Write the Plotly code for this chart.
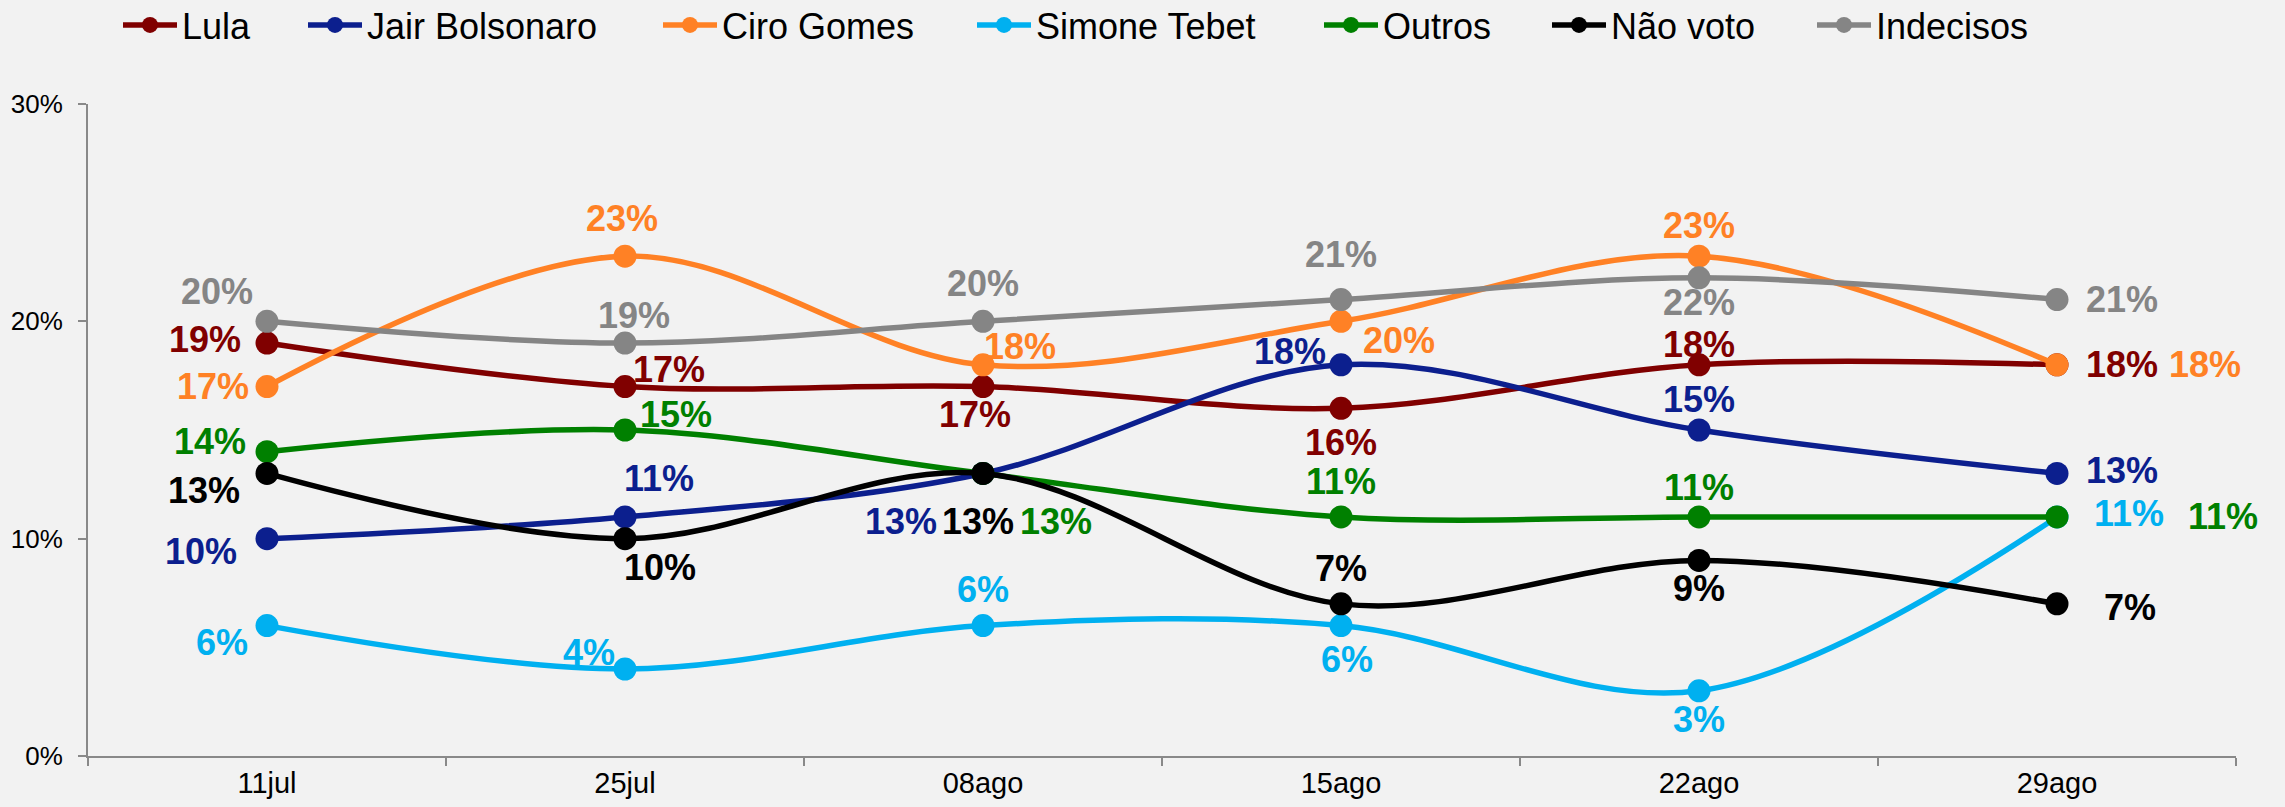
import plotly.graph_objects as go

dates = ["11jul", "25jul", "08ago", "15ago", "22ago", "29ago"]

lula = [19, 17, 17, 16, 18, 18]
bolsonaro = [10, 11, 13, 18, 15, 13]
ciro = [17, 23, 18, 20, 23, 18]
simone = [6, 4, 6, 6, 3, 11]
outros = [14, 15, 13, 11, 11, 11]
nao_voto = [13, 10, 13, 7, 9, 7]
indecisos = [20, 19, 20, 21, 22, 21]

y_ticks = [0, 10, 20, 30]
y_tick_labels = ["0%", "10%", "20%", "30%"]

series_names = ["Lula", "Jair Bolsonaro", "Ciro Gomes", "Simone Tebet",
                "Outros", "Não voto", "Indecisos"]
series_values = [lula, bolsonaro, ciro, simone, outros, nao_voto, indecisos]
colors = ["#800000", "#0C1F8E", "#FF8125", "#00B0F0", "#008000", "#000000", "#858585"]

# label offsets in pixels (dx, dy; dy positive = up), one per point
label_offsets = [
    [(-62, 4), (44, 17), (-8, -28), (0, -34), (0, 20), (65, 0)],            # Lula
    [(-66, -13), (34, 38), (-82, -48), (-51, 13), (0, 31), (65, 3)],        # Bolsonaro
    [(-54, 0), (-3, 38), (37, 18), (58, -19), (0, 31), (148, 0)],           # Ciro
    [(-45, -17), (-36, 17), (0, 36), (6, -34), (0, -29), (72, 3)],          # Simone
    [(-57, 10), (51, 16), (73, -48), (0, 35), (0, 29), (166, 0)],           # Outros
    [(-63, -17), (35, -29), (-5, -48), (0, 35), (0, -28), (73, -4)],        # Não voto
    [(-50, 30), (9, 28), (0, 38), (0, 45), (0, -25), (65, 0)],              # Indecisos
]

W, H = 2285, 807
legend_line_starts = [123, 308, 663, 977, 1324, 1552, 1817]

FONT = "Liberation Sans, Arial, sans-serif"
fig = go.Figure()
annotations = []
legends = {}
for i, (name, vals, col) in enumerate(zip(series_names, series_values, colors)):
    lg = "legend" if i == 0 else f"legend{i+1}"
    fig.add_trace(go.Scatter(
        x=dates, y=vals, name=name, mode="lines+markers",
        line=dict(color=col, width=5.5, shape="spline", smoothing=1),
        marker=dict(color=col, size=23),
        legend=lg, cliponaxis=False, hoverinfo="skip",
    ))
    legends[lg] = dict(
        x=(legend_line_starts[i] - 5) / W, xref="container", xanchor="left",
        y=1 - 25 / H, yref="container", yanchor="middle",
        orientation="h", bgcolor="rgba(0,0,0,0)", borderwidth=0,
        itemwidth=54, font=dict(family=FONT, size=36, color="#000000"),
    )
    for j, (d, v) in enumerate(zip(dates, vals)):
        dx, dy = label_offsets[i][j]
        annotations.append(dict(
            x=d, y=v, xref="x", yref="y", text=f"{v}%", showarrow=False,
            xshift=dx, yshift=dy, xanchor="center", yanchor="middle",
            font=dict(family=FONT, size=36, color=col, weight="bold"),
        ))

fig.update_layout(
    width=W, height=H,
    margin=dict(l=88, r=49, t=104, b=51, autoexpand=False),
    paper_bgcolor="#F2F2F2", plot_bgcolor="#F2F2F2",
    showlegend=True,
    annotations=annotations,
    font=dict(family=FONT, color="#000000"),
    **legends,
)
fig.update_xaxes(
    type="category", range=[-0.5, 5.5], tickson="boundaries",
    showline=True, linecolor="#898989", linewidth=2,
    ticks="outside", ticklen=8, tickwidth=2, tickcolor="#898989",
    showgrid=False, zeroline=False, automargin=False,
    tickfont=dict(family=FONT, size=29, color="#000000"),
)
fig.update_yaxes(
    range=[0, 30], tickmode="array", tickvals=y_ticks, ticktext=y_tick_labels,
    showline=True, linecolor="#898989", linewidth=2,
    ticks="outside", ticklen=8, tickwidth=2, tickcolor="#898989",
    showgrid=False, zeroline=False, automargin=False,
    tickfont=dict(family=FONT, size=26, color="#000000"),
    ticklabelstandoff=10,
)

fig.write_html(
    "out.html",
    config={"displayModeBar": False},
    post_script="document.body.style.margin='0';document.body.style.overflow='hidden';"
                "document.body.style.background='#F2F2F2';",
)
